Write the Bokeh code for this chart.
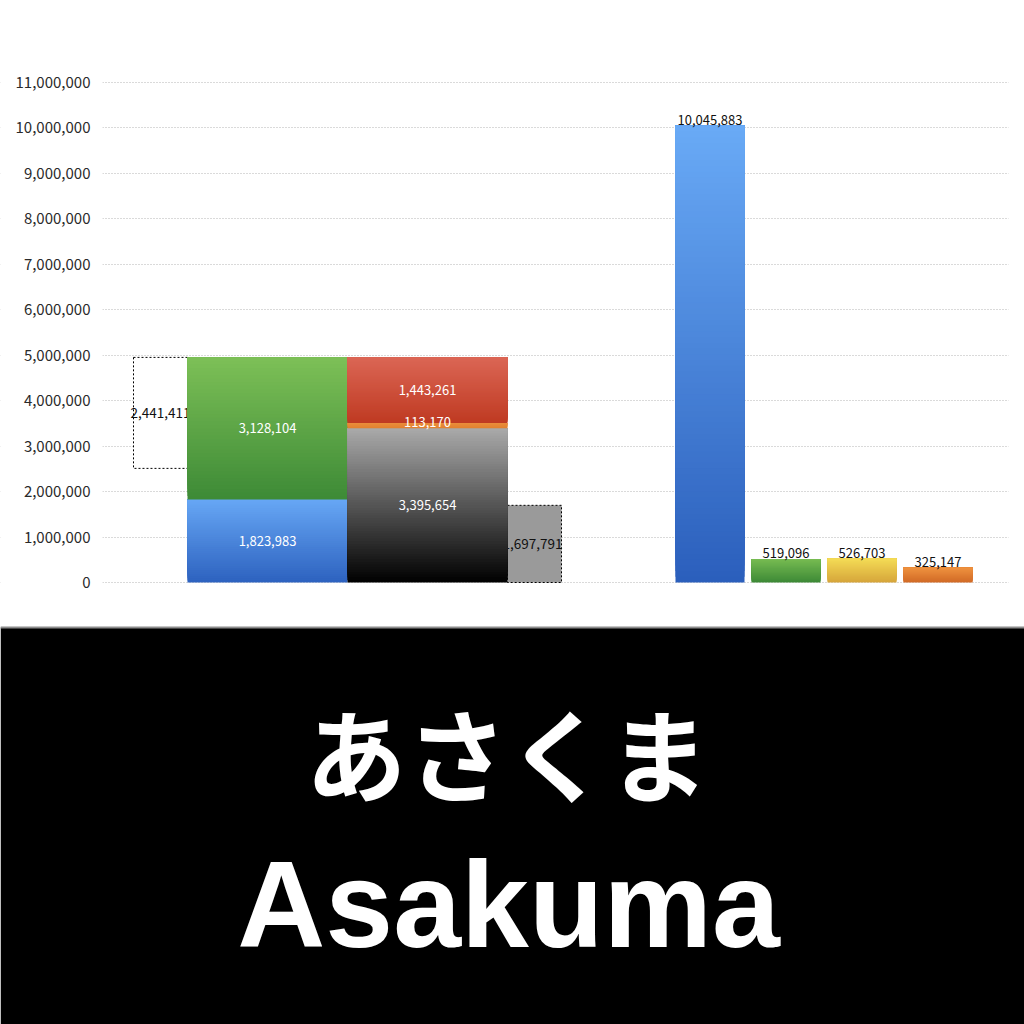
from bokeh.plotting import figure
from bokeh.models import Range1d, FixedTicker, NumeralTickFormatter
from bokeh.embed import file_html
from bokeh.resources import INLINE
from bokeh.core.properties import value

# ---------------- data ----------------
gap_left_value = 2441411                    # dashed floating box (left)
stack_a_values = [1823983, 3128104]         # blue, green
stack_b_values = [3395654, 113170, 1443261] # black, orange, red
gap_right_value = 1697791                   # grey dashed box
single_values = [10045883, 519096, 526703, 325147]  # blue, green, yellow, orange
y_tick_values = [0, 1000000, 2000000, 3000000, 4000000, 5000000, 6000000,
                 7000000, 8000000, 9000000, 10000000, 11000000]
title_jp = "あさくま"
title_en = "Asakuma"

# ---------------- styles / layout ----------------
FONT = "Noto Sans CJK JP"
W = H = 1024
ZERO_PX = 582                      # screen row of the zero line (from top)
PX_PER_UNIT = 500.0 / 11000000.0   # 11,000,000 spans 500 px
BANNER_TOP_PX = 627


def ypx(px_from_top):
    """screen row -> data value on the y scale"""
    return (ZERO_PX - px_from_top) / PX_PER_UNIT


stack_a_colors = [("#67a7f5", "#2d62bf"), ("#7dc057", "#3d8a36")]
stack_b_colors = [("#aaaaaa", "#000000"), ("#ea8d3b", "#e2812f"), ("#db6655", "#bf3a22")]
single_colors = [("#69aaf6", "#2b5fbc"), ("#77bc52", "#3d8936"),
                 ("#f4dc56", "#d6a53a"), ("#ef923f", "#d16a26")]


def hex2rgb(h):
    h = h.lstrip("#")
    return tuple(int(h[i:i + 2], 16) for i in (0, 2, 4))


def mix(c1, c2, f):
    a, b = hex2rgb(c1), hex2rgb(c2)
    return "#%02x%02x%02x" % tuple(int(round(a[i] + (b[i] - a[i]) * f)) for i in range(3))


def grad_bar(p, l, r, b, t, c_top, c_bot, n=40):
    h = (t - b) / n
    lefts, rights, bots, tops, cols = [], [], [], [], []
    for i in range(n):
        lefts.append(l)
        rights.append(r)
        bots.append(b + i * h)
        tops.append(t)
        cols.append(mix(c_bot, c_top, (i + 0.5) / n))
    p.quad(left=lefts, right=rights, bottom=bots, top=tops,
           fill_color=cols, line_color=None)


p = figure(width=W, height=H, output_backend="svg", toolbar_location=None,
           x_range=Range1d(0, W), y_range=Range1d(ypx(H), ypx(0)),
           min_border=0, min_border_left=0, min_border_right=0,
           min_border_top=0, min_border_bottom=0)
p.outline_line_color = None
p.background_fill_color = "white"
p.border_fill_color = "white"
p.xaxis.visible = False
p.xgrid.visible = False
p.ygrid.grid_line_color = "#b4b4b4"
p.ygrid.grid_line_dash = "1 2"
p.ygrid.grid_line_width = 1
yax = p.yaxis[0]
yax.fixed_location = 100
yax.ticker = FixedTicker(ticks=y_tick_values)
yax.formatter = NumeralTickFormatter(format="0,0")
yax.axis_line_color = None
yax.major_tick_line_color = None
yax.minor_tick_line_color = None
yax.major_tick_out = 0
yax.major_tick_in = 0
yax.major_label_standoff = 10
yax.major_label_text_font = FONT
yax.major_label_text_font_size = "15px"
yax.major_label_text_color = "#2a2a2a"

# masks keep the dotted grid inside the plotting band
p.quad(left=[0, 1008], right=[102, W], bottom=[ypx(BANNER_TOP_PX)] * 2, top=[ypx(0)] * 2,
       fill_color="white", line_color=None)

# x layout (screen columns)
STACK_W = 160
GAP_W = 54
x_gap_l = 133
x_a = x_gap_l + GAP_W
x_b = x_a + STACK_W
x_gap_r = x_b + STACK_W
x_single0 = 675
single_w = 69
single_step = 76

stack_total = sum(stack_a_values)

# dashed boxes (drawn first, so the stacks cover their inner edges)
p.quad(left=[x_gap_l], right=[x_a], bottom=[stack_total - gap_left_value], top=[stack_total],
       fill_color="white", line_color="black", line_dash="2 2", line_width=1)
p.quad(left=[x_gap_r], right=[x_gap_r + GAP_W], bottom=[0], top=[gap_right_value],
       fill_color="#9a9a9a", line_color="black", line_dash="2 2", line_width=1)
p.text(x=[x_gap_l + GAP_W / 2, x_gap_r + GAP_W / 2 - 2],
       y=[stack_total - gap_left_value / 2, gap_right_value / 2],
       text=[f"{gap_left_value:,}", f"{gap_right_value:,}"],
       text_font=value(FONT), text_font_size=value("13.5px"),
       text_align="center", text_baseline="middle", text_color="#111111")

# stacked bars
in_x, in_y, in_t = [], [], []
base = 0
for v, (ct, cb) in zip(stack_a_values, stack_a_colors):
    grad_bar(p, x_a, x_b, base, base + v, ct, cb)
    in_x.append(x_a + STACK_W / 2); in_y.append(base + v / 2); in_t.append(f"{v:,}")
    base += v
base = 0
for v, (ct, cb) in zip(stack_b_values, stack_b_colors):
    grad_bar(p, x_b, x_b + STACK_W, base, base + v, ct, cb, n=60 if v > 1000000 else 4)
    in_x.append(x_b + STACK_W / 2); in_y.append(base + v / 2); in_t.append(f"{v:,}")
    base += v

p.text(x=in_x, y=in_y, text=in_t, text_font=value(FONT), text_font_size=value("13px"),
       text_align="center", text_baseline="middle", text_color="white",
       y_offset=[0, 0, 0, -4, 0])

# single bars
sx, sy, st = [], [], []
for i, (v, (ct, cb)) in enumerate(zip(single_values, single_colors)):
    l = x_single0 + i * single_step
    grad_bar(p, l, l + single_w, 0, v, ct, cb, n=80 if v > 2000000 else 20)
    sx.append(l + single_w / 2); sy.append(v); st.append(f"{v:,}")
p.text(x=sx, y=sy, text=st, text_font=value(FONT), text_font_size=value("13px"),
       text_align="center", text_baseline="bottom", text_color="#111111", y_offset=-1)

# ---------------- banner ----------------
p.quad(left=[0], right=[W], bottom=[ypx(H)], top=[ypx(BANNER_TOP_PX)],
       fill_color="black", line_color=None)
p.quad(left=[0], right=[W], bottom=[ypx(BANNER_TOP_PX + 1)], top=[ypx(BANNER_TOP_PX - 1)],
       fill_color="#8c8c8c", line_color=None)
p.text(x=[508], y=[ypx(904)], text=[title_en], text_font=value("Liberation Sans"),
       text_font_size=value("122px"), text_font_style="bold",
       text_color="white", text_align="center", text_baseline="middle")
p.text(x=[507], y=[ypx(750)], text=[title_jp], text_font=value(FONT),
       text_font_size=value("101px"), text_font_style="bold",
       text_color="white", text_align="center", text_baseline="middle")

open("out.html", "w").write(file_html(p, INLINE))
